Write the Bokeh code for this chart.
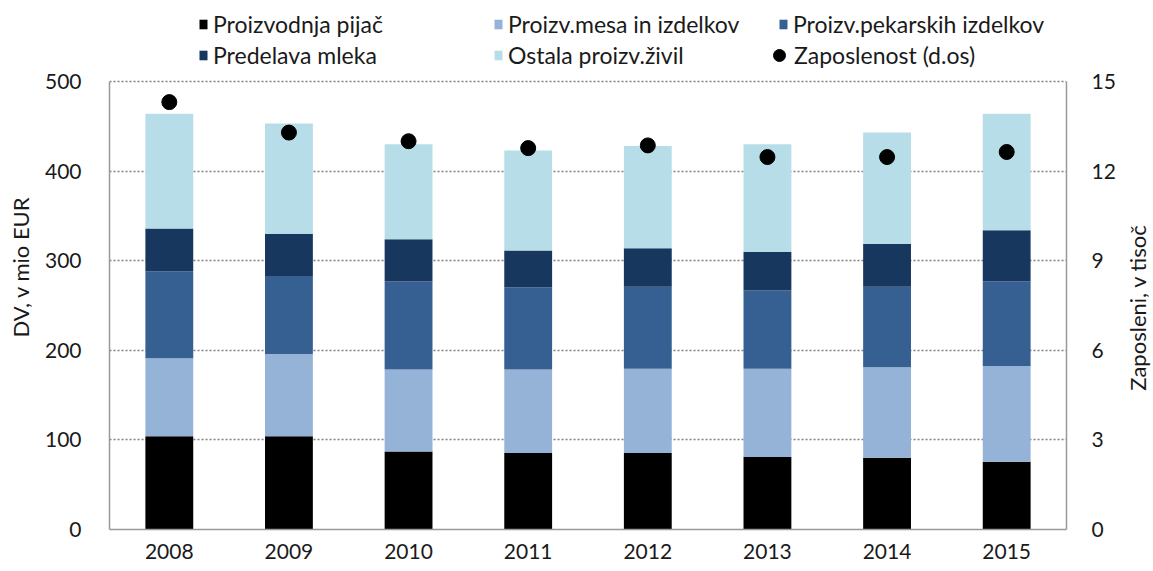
import math
from bokeh.plotting import figure
from bokeh.layouts import row
from bokeh.models import (Range1d, FactorRange, LinearAxis, FixedTicker, Legend, LegendItem)
from bokeh.core.properties import value
from bokeh.embed import file_html
from bokeh.resources import INLINE

years = ["2008", "2009", "2010", "2011", "2012", "2013", "2014", "2015"]
pijac = [104, 104, 87, 85.5, 85.5, 81, 80, 75.5]
mesa = [87, 92, 91.5, 93, 94, 98.5, 101, 107]
pekarskih = [97, 87, 98.5, 91.5, 91.5, 87.5, 90, 94.5]
mleka = [48, 47, 47, 41.5, 43, 43, 47.5, 57]
ostala = [128, 123, 106, 111.5, 114, 120, 124.5, 130]
zaposlenost = [14.31, 13.29, 13.0, 12.77, 12.86, 12.47, 12.47, 12.64]

series_names = ["Proizvodnja pijač", "Proizv.mesa in izdelkov", "Proizv.pekarskih izdelkov",
                "Predelava mleka", "Ostala proizv.živil"]
dot_name = "Zaposlenost (d.os)"
left_label = "DV, v mio EUR"
right_label = "Zaposleni, v tisoč"
left_ticks = [0, 100, 200, 300, 400, 500]
right_ticks = [0, 3, 6, 9, 12, 15]

colors = ["#000000", "#95B3D7", "#366092", "#17375E", "#B7DEE8"]
FONT = "Lato"
TXT = "#1a1a1a"

data = dict(year=years, s0=pijac, s1=mesa, s2=pekarskih, s3=mleka, s4=ostala, emp=zaposlenost)

W, H = 1124, 566
W2 = 27
TOP, BOTTOM, AX_TOP = 4, 529, 81          # pixel layout of the frame
left_max, right_max = 500, 15
ext = (BOTTOM - TOP) / (BOTTOM - AX_TOP)   # extra headroom for the legend

p = figure(width=W, height=H, x_range=FactorRange(*years),
           y_range=Range1d(0, left_max * ext),
           output_backend="svg", toolbar_location=None,
           min_border_left=109, min_border_right=W - 1066, min_border_top=TOP,
           min_border_bottom=H - BOTTOM)
p.extra_y_ranges = {"emp": Range1d(0, right_max * ext)}

renderers = p.vbar_stack(["s0", "s1", "s2", "s3", "s4"], x="year", width=0.4, source=data,
                         color=colors, line_color=None)
dots = p.scatter(x="year", y="emp", source=data, y_range_name="emp", size=15,
                 color="black", marker="circle")

p.outline_line_color = None
p.xgrid.grid_line_color = None
p.ygrid.grid_line_color = "#808080"
p.ygrid.grid_line_dash = "2 2"
p.ygrid.grid_line_width = 1.5
p.ygrid.ticker = FixedTicker(ticks=left_ticks)

def style_axis(ax):
    ax.axis_line_color = "#999999"
    ax.axis_line_width = 1.5
    ax.major_tick_line_color = None
    ax.minor_tick_line_color = None
    ax.major_label_text_font = FONT
    ax.major_label_text_font_size = "21px"
    ax.major_label_text_color = TXT
    ax.axis_label_text_font = FONT
    ax.axis_label_text_font_size = "22px"
    ax.axis_label_text_font_style = "normal"
    ax.axis_label_text_color = TXT

ly = p.yaxis[0]
ly.ticker = FixedTicker(ticks=left_ticks)
ly.bounds = (0, left_max)
ly.axis_label = left_label
ly.major_label_standoff = 22
ly.axis_label_standoff = 8
style_axis(ly)

ry = LinearAxis(y_range_name="emp", ticker=FixedTicker(ticks=right_ticks), bounds=(0, right_max))
ry.major_label_standoff = 19
style_axis(ry)
p.add_layout(ry, "right")

bx = p.xaxis[0]
style_axis(bx)
bx.major_label_standoff = 8

items = [LegendItem(label=n, renderers=[r]) for n, r in zip(series_names, renderers)]
dot_item = LegendItem(label=dot_name, renderers=[dots])

common = dict(orientation="vertical", label_height=28, padding=0, margin=0,
              background_fill_alpha=0, border_line_color=None,
              label_text_font=FONT, label_text_font_size="23px", label_text_color=TXT)
groups = [([items[0], items[3]], 89, 460), ([items[1], items[4]], 384, 460),
          ([items[2]], 669, 491)]
for col, vx, vy in groups:
    p.add_layout(Legend(items=col, location=(vx, vy), glyph_width=10, glyph_height=12,
                        label_standoff=5, spacing=3, **common), "center")
p.add_layout(Legend(items=[dot_item], location=(655, 459), glyph_width=30, glyph_height=30,
                    label_standoff=-5, spacing=0, **common), "center")

# narrow companion panel holding the right-hand axis title (reads bottom-to-top);
# its frame is aligned with the main frame, so y is given in the main frame's pixels
p2 = figure(width=W2, height=H, x_range=Range1d(0, W2), y_range=Range1d(BOTTOM, TOP),
            output_backend="svg", toolbar_location=None,
            x_axis_location=None, y_axis_location=None,
            min_border_left=0, min_border_right=0, min_border_top=TOP,
            min_border_bottom=H - BOTTOM)
p2.outline_line_color = None
p2.grid.visible = False
p2.text(x=[13], y=[(AX_TOP + BOTTOM) / 2 + 2], text=[right_label], angle=math.pi / 2,
        text_align="center", text_baseline="middle", text_font=value(FONT),
        text_font_size="22px", text_color=TXT)

layout = row(p, p2, spacing=0)
open("out.html", "w").write(file_html(layout, INLINE))
